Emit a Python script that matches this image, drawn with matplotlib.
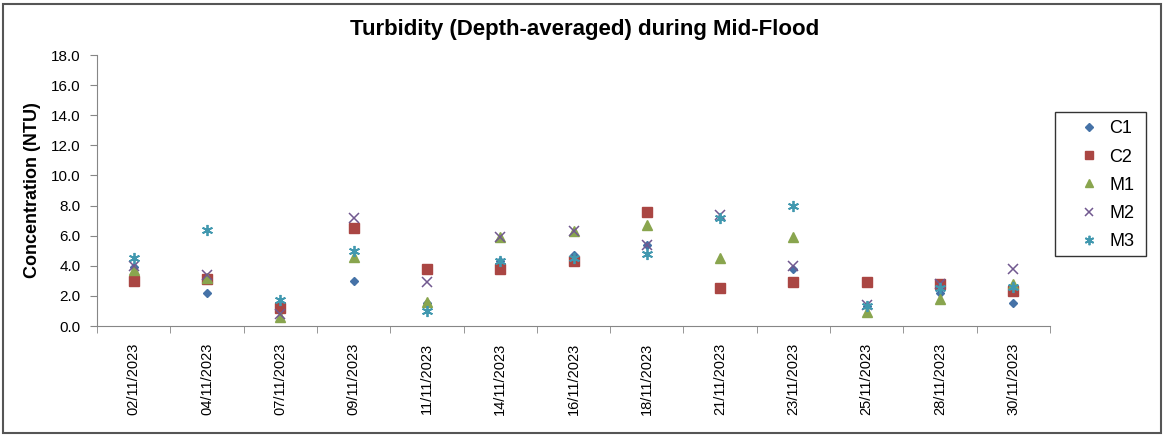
import matplotlib.pyplot as plt
import matplotlib.patches as patches
import numpy as np

plt.rcParams['font.family'] = ['Liberation Sans', 'DejaVu Sans']

dates = ['02/11/2023', '04/11/2023', '07/11/2023', '09/11/2023', '11/11/2023',
         '14/11/2023', '16/11/2023', '18/11/2023', '21/11/2023', '23/11/2023',
         '25/11/2023', '28/11/2023', '30/11/2023']

c1 = [3.9, 2.2, 1.0, 3.0, 1.5, 4.3, 4.7, 5.4, 2.6, 3.8, 1.3, 2.2, 1.5]
c2 = [3.0, 3.1, 1.2, 6.5, 3.8, 3.8, 4.3, 7.6, 2.5, 2.9, 2.9, 2.8, 2.3]
m1 = [3.7, 3.2, 0.6, 4.6, 1.6, 5.9, 6.3, 6.7, 4.5, 5.9, 0.9, 1.8, 2.8]
m2 = [4.0, 3.4, 0.8, 7.2, 2.9, 5.9, 6.3, 5.4, 7.4, 4.0, 1.4, 2.8, 3.8]
m3 = [4.5, 6.4, 1.7, 5.0, 1.0, 4.3, 4.5, 4.8, 7.2, 8.0, 1.3, 2.5, 2.6]

W, H = 1164, 436
fig = plt.figure(figsize=(W / 100, H / 100), dpi=100)
ax = fig.add_axes([97 / W, (H - 326) / H, (1050 - 97) / W, (326 - 55) / H])

x = np.arange(len(dates))
ax.plot(x, c1, ls='none', marker='D', ms=4.5, color='#4572A7', label='C1')
ax.plot(x, c2, ls='none', marker='s', ms=7, color='#AA4643', label='C2')
ax.plot(x, m1, ls='none', marker='^', ms=7, color='#89A54E', label='M1')
ax.plot(x, m2, ls='none', marker='x', ms=7, mew=1.1, color='#71588F', label='M2')
ax.plot(x, m3, ls='none', marker=(6, 2, 0), ms=8, mew=1.3, color='#4198AF', label='M3')

ax.set_xlim(-0.5, len(dates) - 0.5)
ax.set_ylim(0, 18)
ax.set_yticks(np.arange(0, 18.1, 2))
ax.set_yticklabels(['%.1f' % v for v in np.arange(0, 18.1, 2)], fontsize=11)

ax.set_xticks(x)
ax.set_xticklabels(dates, rotation=90, fontsize=10.5)
ax.set_xticks(np.arange(-0.5, len(dates), 1), minor=True)
ax.tick_params(axis='x', which='major', length=0, pad=12)
ax.tick_params(axis='x', which='minor', length=5, color='#868686')
ax.tick_params(axis='y', length=5, color='#868686', pad=7)

for s in ['top', 'right']:
    ax.spines[s].set_visible(False)
for s in ['left', 'bottom']:
    ax.spines[s].set_color('#868686')

ax.set_ylabel('Concentration (NTU)', fontsize=13, fontweight='bold', labelpad=7)
fig.text(585 / W, 1 - 29 / H, 'Turbidity (Depth-averaged) during Mid-Flood',
         ha='center', va='center', fontsize=16, fontweight='bold')

# legend entries, frame drawn separately to match the wider box
fig.legend(loc='upper left', bbox_to_anchor=(1066 / W, 1 - 115 / H),
           borderaxespad=0, frameon=False, fontsize=13, markerscale=0.85,
           handletextpad=0.1, handlelength=2.0, borderpad=0.3,
           labelspacing=0.62)
fig.patches.append(patches.Rectangle((1055 / W, 1 - 256 / H), 91 / W, 144 / H,
                                     transform=fig.transFigure, fill=False,
                                     edgecolor='#333333', linewidth=1.0))

fig.patches.append(patches.Rectangle((3 / W, 3 / H), 1 - 6 / W, 1 - 7 / H,
                                     transform=fig.transFigure, fill=False,
                                     edgecolor='#555555', linewidth=1.5))

fig.savefig('out.png', dpi=100)
